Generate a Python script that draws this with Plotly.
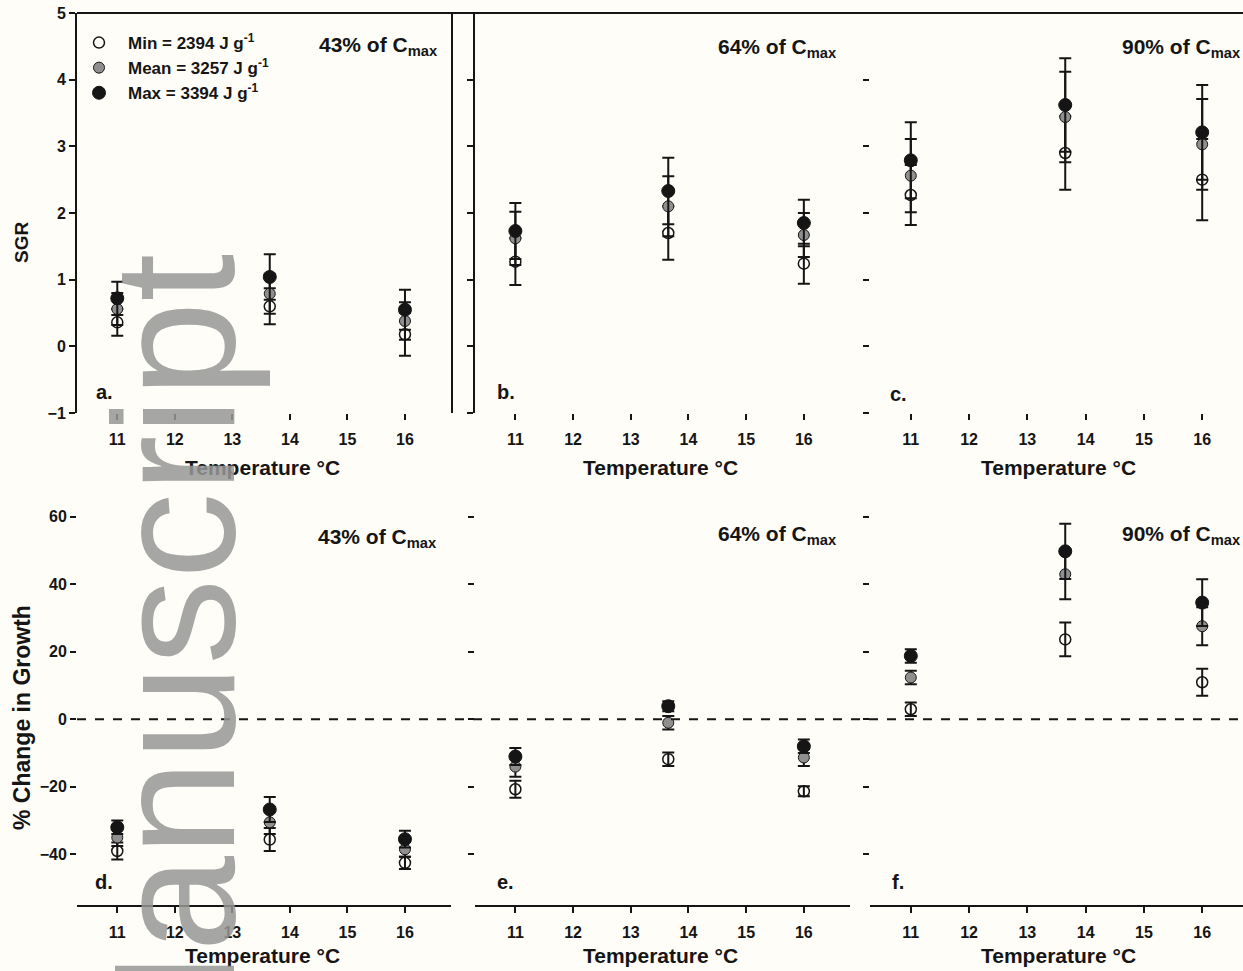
import plotly.graph_objects as go

# ---------------- data ----------------
temps = [11, 13.65, 16]
x_ticks = [11, 12, 13, 14, 15, 16]
sgr_ticks = [-1, 0, 1, 2, 3, 4, 5]
pct_ticks = [-40, -20, 0, 20, 40, 60]

legend_names = ["Min = 2394 J g<sup>-1</sup>", "Mean = 3257 J g<sup>-1</sup>", "Max = 3394 J g<sup>-1</sup>"]
ration_labels = ["43% of C<sub>max</sub>", "64% of C<sub>max</sub>", "90% of C<sub>max</sub>"]
panel_letters = ["a.", "b.", "c.", "d.", "e.", "f."]

# SGR (top row)
sgr43_min = [0.36, 0.60, 0.18]
sgr43_mean = [0.56, 0.79, 0.38]
sgr43_max = [0.72, 1.04, 0.55]
sgr43_min_se = [0.20, 0.27, 0.32]
sgr43_mean_se = [0.24, 0.30, 0.28]
sgr43_max_se = [0.25, 0.34, 0.30]

sgr64_min = [1.27, 1.70, 1.24]
sgr64_mean = [1.62, 2.10, 1.67]
sgr64_max = [1.73, 2.33, 1.85]
sgr64_min_se = [0.35, 0.40, 0.30]
sgr64_mean_se = [0.40, 0.45, 0.33]
sgr64_max_se = [0.42, 0.50, 0.35]

sgr90_min = [2.27, 2.90, 2.50]
sgr90_mean = [2.56, 3.44, 3.03]
sgr90_max = [2.79, 3.62, 3.21]
sgr90_min_se = [0.45, 0.55, 0.61]
sgr90_mean_se = [0.55, 0.68, 0.68]
sgr90_max_se = [0.57, 0.70, 0.71]

# % change in growth (bottom row)
pc43_min = [-39.0, -35.6, -42.5]
pc43_mean = [-35.0, -30.5, -38.5]
pc43_max = [-32.0, -26.7, -35.5]
pc43_min_se = [2.5, 3.4, 1.8]
pc43_mean_se = [2.5, 3.5, 2.2]
pc43_max_se = [2.0, 3.7, 2.5]

pc64_min = [-20.7, -11.8, -21.3]
pc64_mean = [-14.0, -1.0, -11.3]
pc64_max = [-11.0, 3.9, -8.0]
pc64_min_se = [2.5, 2.0, 1.5]
pc64_mean_se = [3.0, 2.0, 2.5]
pc64_max_se = [2.5, 1.5, 2.0]

pc90_min = [3.0, 23.7, 11.0]
pc90_mean = [12.4, 43.0, 27.6]
pc90_max = [18.8, 49.8, 34.6]
pc90_min_se = [2.0, 5.0, 4.0]
pc90_mean_se = [2.0, 7.4, 5.6]
pc90_max_se = [2.0, 8.2, 6.9]

panels = [
    (sgr43_min, sgr43_mean, sgr43_max, sgr43_min_se, sgr43_mean_se, sgr43_max_se),
    (sgr64_min, sgr64_mean, sgr64_max, sgr64_min_se, sgr64_mean_se, sgr64_max_se),
    (sgr90_min, sgr90_mean, sgr90_max, sgr90_min_se, sgr90_mean_se, sgr90_max_se),
    (pc43_min, pc43_mean, pc43_max, pc43_min_se, pc43_mean_se, pc43_max_se),
    (pc64_min, pc64_mean, pc64_max, pc64_min_se, pc64_mean_se, pc64_max_se),
    (pc90_min, pc90_mean, pc90_max, pc90_min_se, pc90_mean_se, pc90_max_se),
]

# ---------------- layout geometry ----------------
W, H = 1243, 971
FONT = "Liberation Sans, Arial, sans-serif"
INK = "#151515"
BG = "#fffdf8"

def px_x(p):
    return p / W

def px_y(p):
    return 1 - p / H

col_dom = [[px_x(77), px_x(451)], [px_x(475), px_x(850)], [px_x(870), 1.0]]
top_dom = [px_y(413), px_y(13)]
bot_dom = [px_y(905), px_y(500)]

fig = go.Figure()

styles = [
    dict(symbol="circle-open", size=11, color=INK, line=dict(color=INK, width=1.5)),
    dict(symbol="circle", size=11, color="#8f8f8f", line=dict(color=INK, width=1)),
    dict(symbol="circle", size=13, color=INK, line=dict(color=INK, width=1)),
]

for i, (mn, me, mx, mn_se, me_se, mx_se) in enumerate(panels):
    ax = "" if i == 0 else str(i + 1)
    series = [(mn, mn_se), (me, me_se), (mx, mx_se)]
    for k, (vals, se) in enumerate(series):
        fig.add_trace(go.Scatter(
            x=temps, y=vals, mode="markers",
            name=legend_names[k], legendgroup=str(k), showlegend=(i == 0),
            marker=styles[k],
            error_y=dict(type="data", array=se, visible=True, color=INK, thickness=2, width=6),
            xaxis="x" + ax, yaxis="y" + ax, cliponaxis=False,
        ))

tickfont = dict(family=FONT, size=16, color=INK, weight="bold")
layout = dict(
    width=W, height=H, margin=dict(l=0, r=0, t=0, b=0),
    paper_bgcolor=BG, plot_bgcolor=BG,
    font=dict(family=FONT, color=INK),
    showlegend=True,
    legend=dict(x=px_x(70), y=px_y(25), xanchor="left", yanchor="top",
                bgcolor="rgba(0,0,0,0)", font=dict(family=FONT, size=17, color=INK, weight="bold"),
                tracegroupgap=0, itemwidth=48),
)

for i in range(6):
    ax = "" if i == 0 else str(i + 1)
    col = i % 3
    top = i < 3
    xa = dict(domain=col_dom[col], range=[10.3, 16.8] if col < 2 else [10.3, 16.7],
              tickvals=x_ticks, ticks="outside", ticklen=6, tickwidth=1.5, tickcolor=INK,
              showgrid=False, zeroline=False, tickfont=tickfont, automargin=False,
              ticklabelstandoff=6, anchor="y" + ax, showline=not top, linecolor=INK, linewidth=2)
    if top:
        ya = dict(domain=top_dom, range=[-1, 5], tickvals=sgr_ticks, showticklabels=(col == 0),
                  showline=(col < 2), mirror=(col == 0), linecolor=INK, linewidth=2)
    else:
        ya = dict(domain=bot_dom, range=[-55, 65], tickvals=pct_ticks, showticklabels=(col == 0),
                  showline=False)
    ya.update(ticks="outside", ticklen=6, tickwidth=1.5, tickcolor=INK, showgrid=False,
              zeroline=False, tickfont=tickfont, automargin=False, anchor="x" + ax)
    layout["xaxis" + ax] = xa
    layout["yaxis" + ax] = ya

fig.update_layout(**layout)

# frame lines and the zero reference line
fig.add_shape(type="line", xref="paper", yref="paper", x0=px_x(77), x1=1.0,
              y0=px_y(13), y1=px_y(13), line=dict(color=INK, width=2))
fig.add_shape(type="line", xref="paper", yref="y4", x0=px_x(77), x1=1.0, y0=0, y1=0,
              line=dict(color=INK, width=2, dash="dash"))

ann = []
title_font = dict(family=FONT, size=21, color=INK)
# axis titles
ann.append(dict(text="<b>SGR</b>", x=px_x(22), y=px_y(243), textangle=-90, font=dict(family=FONT, size=19, color=INK)))
ann.append(dict(text="<b>% Change in Growth</b>", x=px_x(22), y=px_y(718), textangle=-90,
                font=dict(family=FONT, size=23, color=INK)))
for col in range(3):
    cx = [px_x(262), px_x(660), px_x(1058)][col]
    ann.append(dict(text="<b>Temperature °C</b>", x=cx, y=px_y(468), font=title_font))
    ann.append(dict(text="<b>Temperature °C</b>", x=cx, y=px_y(955), font=title_font))
# ration labels
for (tx, ty, s) in [(379, 46, 0), (777, 48, 1), (378, 538, 0), (777, 535, 1)]:
    ann.append(dict(text="<b>" + ration_labels[s] + "</b>", x=px_x(tx), y=px_y(ty), font=title_font))
for ty in (48, 535):
    ann.append(dict(text="<b>" + ration_labels[2] + "</b>", x=1.0, xanchor="right", y=px_y(ty), font=title_font))
# panel letters
for (tx, ty, s) in [(104, 392, 0), (506, 392, 1), (898, 394, 2), (104, 882, 3), (505, 882, 4), (898, 882, 5)]:
    ann.append(dict(text="<b>" + panel_letters[s] + "</b>", x=px_x(tx), y=px_y(ty), font=dict(family=FONT, size=20, color=INK)))
# watermark (partly off the bottom edge, as in the original scan)
ann.append(dict(text="Manuscript", x=px_x(174), y=px_y(675), textangle=-90,
                font=dict(family=FONT, size=172, color="rgba(150,150,150,0.85)")))

for a in ann:
    a.setdefault("xref", "paper")
    a.setdefault("yref", "paper")
    a.setdefault("showarrow", False)
    a.setdefault("xanchor", "center")
    a.setdefault("yanchor", "middle")
fig.update_layout(annotations=ann)

fig.write_html("out.html", config={"displayModeBar": False},
               post_script="document.body.style.margin='0';document.body.style.overflow='hidden';")
